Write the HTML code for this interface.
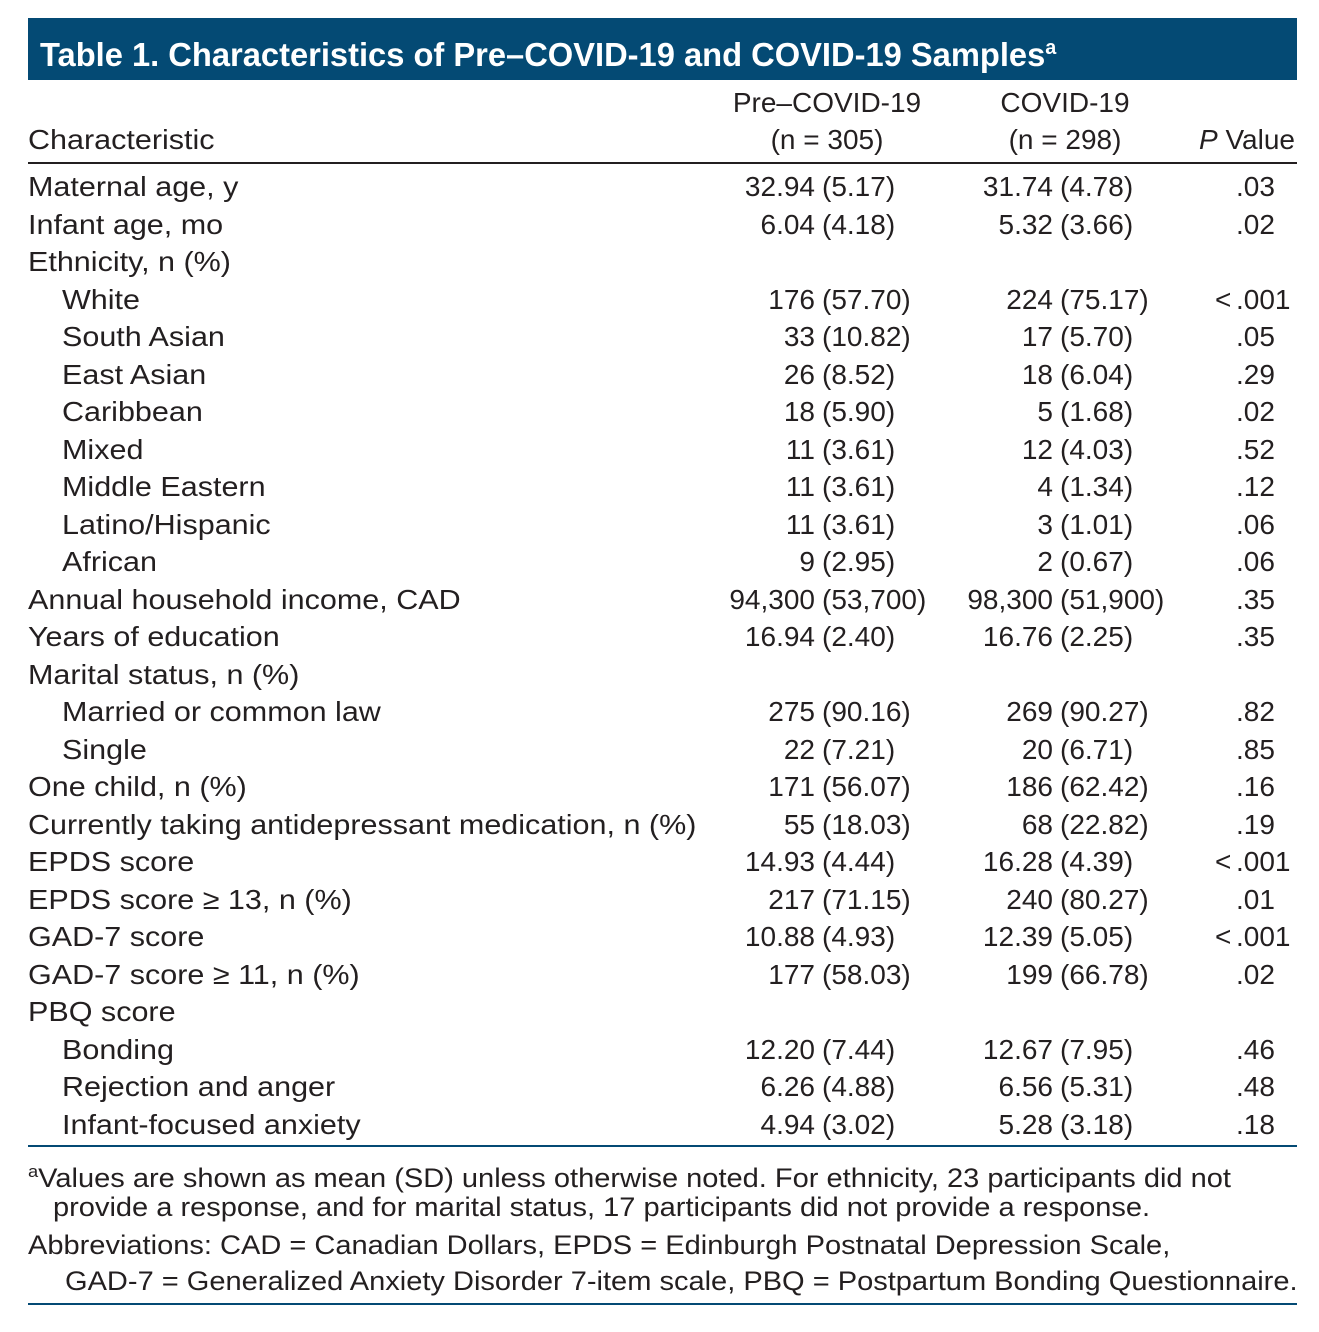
<!DOCTYPE html>
<html><head><meta charset="utf-8"><style>
body{margin:0;background:#fff;}
#page{position:relative;width:1319px;height:1332px;font-family:"Liberation Sans",sans-serif;color:#231f20;font-size:28px;overflow:hidden;}
.abs{position:absolute;white-space:nowrap;line-height:36px;}
.hdr{position:absolute;left:28px;top:18px;width:1269px;height:62px;background:#044a74;}
.title{position:absolute;left:12px;top:11px;color:#fff;font-weight:bold;font-size:33px;line-height:38px;white-space:nowrap;transform:scaleX(0.99);transform-origin:left center;}
.rule{position:absolute;left:28px;width:1269px;}
.lbl{transform:scaleX(1.09);transform-origin:left center;}
.fn{transform:scaleX(1.075);transform-origin:left center;}
</style></head><body>
<div id="page">
<div class="hdr"><div class="title">Table 1. Characteristics of Pre–COVID-19 and COVID-19 Samples<sup style="font-size:20px">a</sup></div></div>
<div class="abs" style="left:727px;width:200px;text-align:center;top:85px">Pre–COVID-19</div>
<div class="abs" style="left:727px;width:200px;text-align:center;top:122px">(n = 305)</div>
<div class="abs" style="left:965px;width:200px;text-align:center;top:85px">COVID-19</div>
<div class="abs" style="left:965px;width:200px;text-align:center;top:122px">(n = 298)</div>
<div class="abs lbl" style="left:28px;top:122px">Characteristic</div>
<div class="abs" style="right:24px;top:122px"><i>P</i> Value</div>
<div class="rule" style="top:162px;height:2px;background:#231f20"></div>
<div id="rows"></div>
<div class="rule" style="top:1145px;height:2px;background:#044a74"></div>
<div class="abs fn" style="left:28px;top:1154px;font-size:27px"><sup style="font-size:17px">a</sup>Values are shown as mean (SD) unless otherwise noted. For ethnicity, 23 participants did not</div>
<div class="abs fn" style="left:53px;top:1189px;font-size:27px">provide a response, and for marital status, 17 participants did not provide a response.</div>
<div class="abs fn" style="left:28px;top:1227px;font-size:27px">Abbreviations: CAD = Canadian Dollars, EPDS = Edinburgh Postnatal Depression Scale,</div>
<div class="abs fn" style="left:65px;top:1263px;font-size:27px">GAD-7 = Generalized Anxiety Disorder 7-item scale, PBQ = Postpartum Bonding Questionnaire.</div>
<div class="rule" style="top:1303px;height:2px;background:#044a74"></div>
</div>
<script>
const labels=["Maternal age, y","Infant age, mo","Ethnicity, n (%)","White","South Asian","East Asian","Caribbean","Mixed","Middle Eastern","Latino/Hispanic","African","Annual household income, CAD","Years of education","Marital status, n (%)","Married or common law","Single","One child, n (%)","Currently taking antidepressant medication, n (%)","EPDS score","EPDS score ≥ 13, n (%)","GAD-7 score","GAD-7 score ≥ 11, n (%)","PBQ score","Bonding","Rejection and anger","Infant-focused anxiety"];
const indent=[0,0,0,1,1,1,1,1,1,1,1,0,0,0,1,1,0,0,0,0,0,0,0,1,1,1];
const preVals=["32.94 (5.17)","6.04 (4.18)","","176 (57.70)","33 (10.82)","26 (8.52)","18 (5.90)","11 (3.61)","11 (3.61)","11 (3.61)","9 (2.95)","94,300 (53,700)","16.94 (2.40)","","275 (90.16)","22 (7.21)","171 (56.07)","55 (18.03)","14.93 (4.44)","217 (71.15)","10.88 (4.93)","177 (58.03)","","12.20 (7.44)","6.26 (4.88)","4.94 (3.02)"];
const covVals=["31.74 (4.78)","5.32 (3.66)","","224 (75.17)","17 (5.70)","18 (6.04)","5 (1.68)","12 (4.03)","4 (1.34)","3 (1.01)","2 (0.67)","98,300 (51,900)","16.76 (2.25)","","269 (90.27)","20 (6.71)","186 (62.42)","68 (22.82)","16.28 (4.39)","240 (80.27)","12.39 (5.05)","199 (66.78)","","12.67 (7.95)","6.56 (5.31)","5.28 (3.18)"];
const pVals=[".03",".02","","<.001",".05",".29",".02",".52",".12",".06",".06",".35",".35","",".82",".85",".16",".19","<.001",".01","<.001",".02","",".46",".48",".18"];
const rows=document.getElementById('rows');
function mk(txt,style,name){const d=document.createElement('div');d.className='abs';d.textContent=txt;d.setAttribute('style',style);


rows.appendChild(d);return d;}
function split(v,rightEdge,parenX,top,name){if(!v)return;const i=v.indexOf(' (');
mk(v.slice(0,i),'right:'+(1319-rightEdge)+'px;top:'+top+'px',name+'-value');
mk(v.slice(i+1),'left:'+parenX+'px;top:'+top+'px',name+'-sd');}
labels.forEach((l,k)=>{const top=169+k*37.5;const slug=l.toLowerCase().replace(/[^a-z0-9]+/g,'-').replace(/^-|-$/g,'');
const d=mk(l,'left:'+(indent[k]?62:28)+'px;top:'+top+'px','row-label-'+slug);d.classList.add('lbl');
split(preVals[k],815,822,top,'pre-covid-'+slug);
split(covVals[k],1053,1060,top,'covid-'+slug);
const p=pVals[k];if(p){if(p[0]=='<'){mk('<','left:1215px;top:'+top+'px','p-less-than-'+slug);mk(p.slice(1),'left:1236px;top:'+top+'px','p-value-'+slug);}
else mk(p,'left:1236px;top:'+top+'px','p-value-'+slug);}
});
</script>
</body></html>
